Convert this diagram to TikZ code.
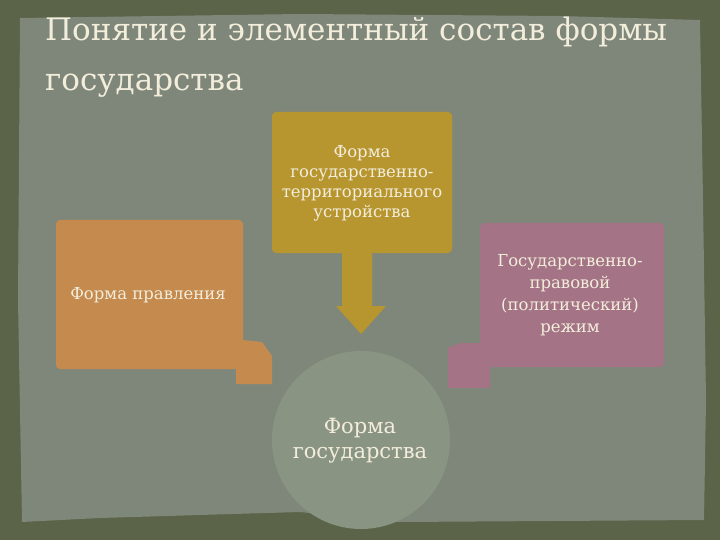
\documentclass[tikz,border=0pt]{standalone}
\usepackage{fontspec}
\setmainfont{DejaVu Serif}
\begin{document}
\begin{tikzpicture}[x=1pt,y=-1pt]
\definecolor{bordercol}{HTML}{5B6349}
\definecolor{panelcol}{HTML}{7F877A}
\definecolor{goldcol}{HTML}{B7952F}
\definecolor{orangecol}{HTML}{C48A4E}
\definecolor{pinkcol}{HTML}{A47385}
\definecolor{circcol}{HTML}{8A9482}
\definecolor{txtcol}{HTML}{F3EEDC}
\tikzset{
  lbl/.style={text=txtcol, align=center, font=\fontsize{16.5}{20}\selectfont, inner sep=0pt}
}
\useasboundingbox (0,0) rectangle (720,540);
\fill[bordercol] (0,0) rectangle (720,540);
\fill[panelcol] (20,18) -- (300,14) -- (560,16) -- (700,20) -- (703,200) -- (706,400) -- (704,520) -- (400,522) -- (300,512) -- (100,518) -- (22,522) -- (18,300) -- cycle;
% title
\node[anchor=north west, text=txtcol, align=left, font=\fontsize{31}{50}\selectfont, inner sep=0pt] (title) at (45,17) {Понятие и элементный состав формы\\государства};
% top callout
\fill[goldcol, rounded corners=4pt] (272,112) -- (452,112) -- (452,253) [sharp corners]-- (372,253) -- (372,306) -- (386,306) -- (361,334) -- (336,306) -- (342,306) -- (342,253) [rounded corners=4pt]-- (272,253) -- cycle;
\node[lbl] (top) at (362,183) {Форма\\государственно-\\территориального\\устройства};
% left callout
\fill[orangecol, rounded corners=4pt] (56,220) -- (243,220) [sharp corners]-- (243,340) -- (262,342) -- (272,356) -- (272,384) -- (236,384) -- (236,369) [rounded corners=4pt]-- (56,369) -- cycle;
\node[lbl] (left) at (148,295) {Форма правления};
% right callout
\fill[pinkcol, rounded corners=4pt] (480,223) -- (664,223) -- (664,367) [sharp corners]-- (490,367) -- (490,388) -- (448,388) -- (448,348) -- (460,343) -- (480,343) [rounded corners=4pt]-- cycle;
\node[lbl, font=\fontsize{16.5}{22}\selectfont] (right) at (570,295) {Государственно-\\правовой\\(политический)\\режим};
% circle
\fill[circcol] (361,440) circle[radius=89];
\node[lbl, font=\fontsize{21}{25}\selectfont] (centre) at (360,441) {Форма\\государства};
\end{tikzpicture}
\end{document}
